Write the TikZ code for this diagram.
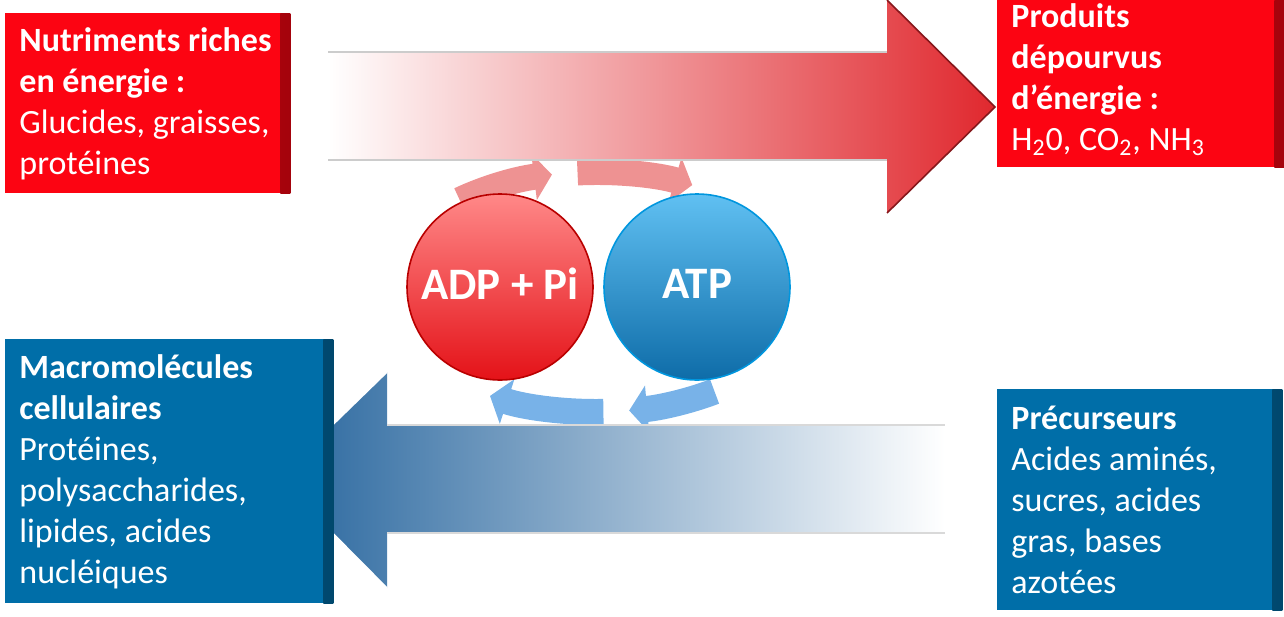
\documentclass[tikz,border=0pt]{standalone}
\usepackage{fontspec}
\setmainfont{Carlito}
\usepackage{xcolor}
\usepackage{tikz}
\usetikzlibrary{positioning,arrows.meta}

\definecolor{boxred}{RGB}{252,4,18}
\definecolor{boxblue}{RGB}{0,110,168}
\definecolor{arrowred}{RGB}{224,40,46}
\definecolor{arrowblue}{RGB}{40,102,158}
\definecolor{cycred}{RGB}{238,146,146}
\definecolor{cycblue}{RGB}{120,178,232}

\begin{document}
\begin{tikzpicture}[
    x=0.5pt, y=-0.5pt,
    box/.style={
        rectangle, anchor=north west, inner xsep=7pt, inner ysep=0pt,
        align=flush left, text=white,
        font=\fontsize{17pt}{20.5pt}\selectfont,
        path picture={\shade[left color=#1, right color=#1!65!black]
            ([xshift=-5pt]path picture bounding box.north east)
            rectangle (path picture bounding box.south east);}
    },
    redbox/.style={box=boxred, fill=boxred},
    bluebox/.style={box=boxblue, fill=boxblue},
    ball/.style={circle, minimum size=93pt, inner sep=0pt, text=white,
        font=\fontsize{22.5pt}{26pt}\selectfont\bfseries, line width=0.8pt},
    cycarrow/.style={line width=13pt,
        -{Triangle[length=9pt, width=23pt]}}
]
\useasboundingbox (0,0) rectangle (1284,616);

\coordinate (cyc) at (596,292);

% cycle arrows behind the balls
\draw[cycarrow, cycred] ([shift={(230:212 and 120)}]cyc)
    arc[start angle=230, end angle=258, x radius=212, y radius=120];
\draw[cycarrow, cycred] ([shift={(265:212 and 120)}]cyc)
    arc[start angle=265, end angle=297, x radius=212, y radius=120];
\draw[cycarrow, cycblue] ([shift={(56:212 and 120)}]cyc)
    arc[start angle=56, end angle=81, x radius=212, y radius=120];
\draw[cycarrow, cycblue] ([shift={(88:212 and 120)}]cyc)
    arc[start angle=88, end angle=120, x radius=212, y radius=120];

% catabolism / anabolism arrows
\shade[left color=white, right color=arrowred]
    (328,52) -- (887,52) -- (887,0) -- (995,107) -- (887,213)
    -- (887,160) -- (328,160) -- cycle;
\draw[gray!40, line width=0.6pt] (328,52) -- (887,52) (328,160) -- (887,160);
\draw[arrowred!60!black, line width=0.8pt] (887,0) -- (995,107) -- (887,213);

\shade[left color=arrowblue, right color=white]
    (945,425) -- (387,425) -- (387,372) -- (278,478) -- (387,588)
    -- (387,533) -- (945,533) -- cycle;
\draw[gray!30, line width=0.6pt] (387,425) -- (945,425) (387,533) -- (945,533);
\draw[white, line width=0.8pt] (387,372) -- (278,478) -- (387,588);

\node[ball, top color={rgb,255:red,255;green,136;blue,136},
      bottom color={rgb,255:red,228;green,18;blue,24},
      draw={rgb,255:red,185;green,0;blue,0}] (adp) at (500,287) {\raisebox{3pt}{ADP + Pi}};
\node[ball, top color={rgb,255:red,96;green,192;blue,242},
      bottom color={rgb,255:red,14;green,108;blue,168},
      draw={rgb,255:red,0;green,150;blue,222}] (atp) at (697,287) {\raisebox{3pt}{ATP}};

\node[redbox, minimum width=142.5pt, minimum height=90pt, text width=128.5pt]
    (nutr) at (5,13)
    {\textbf{Nutriments riches}\\\textbf{en énergie :}\\Glucides, graisses,\\protéines};
\node[redbox, minimum width=143.5pt, minimum height=87.5pt, text width=129.5pt]
    (prod) at (997,-8)
    {\textbf{Produits}\\\textbf{dépourvus}\\\textbf{d’énergie :}\\
     H\textsubscript{2}0, CO\textsubscript{2}, NH\textsubscript{3}};
\node[bluebox, minimum width=164pt, minimum height=132pt, text width=150pt]
    (macro) at (5,339)
    {\textbf{Macromolécules}\\\textbf{cellulaires}\\Protéines,\\polysaccharides,\\lipides, acides\\nucléiques};
\node[bluebox, minimum width=142.5pt, minimum height=110.5pt, text width=128.5pt]
    (prec) at (997,389)
    {\textbf{Précurseurs}\\Acides aminés,\\sucres, acides\\gras, bases\\azotées};
\end{tikzpicture}
\end{document}
